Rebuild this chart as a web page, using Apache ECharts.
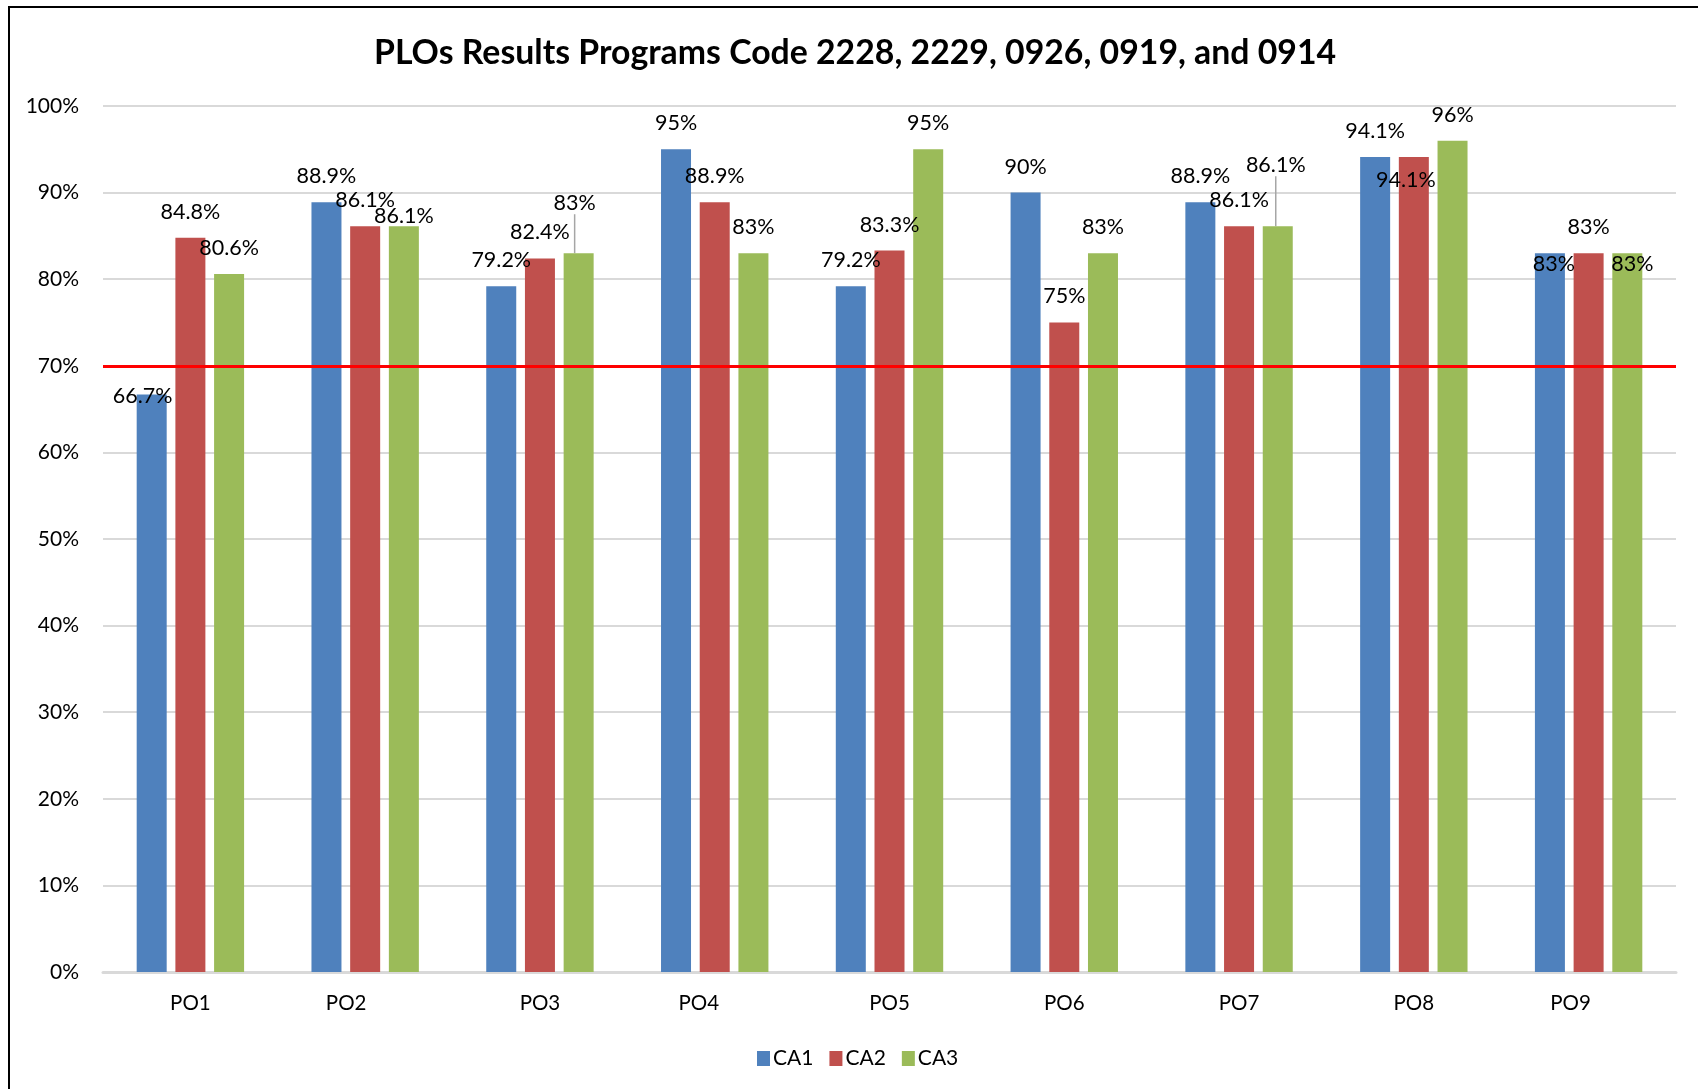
<!DOCTYPE html>
<html>
<head>
<meta charset="utf-8">
<script src="https://cdn.jsdelivr.net/npm/echarts@6/dist/echarts.min.js"></script>
<style>
  html, body { margin: 0; padding: 0; background: #fff; }
  #chart { width: 1698px; height: 1089px; }
</style>
</head>
<body>
<div id="chart"></div>
<script>
  const categories = ['PO1', 'PO2', 'PO3', 'PO4', 'PO5', 'PO6', 'PO7', 'PO8', 'PO9']
  const seriesNames = ['CA1', 'CA2', 'CA3']
  const ca1 = [66.7, 88.9, 79.2, 95, 79.2, 90, 88.9, 94.1, 83]
  const ca2 = [84.8, 86.1, 82.4, 88.9, 83.3, 75, 86.1, 94.1, 83]
  const ca3 = [80.6, 86.1, 83, 83, 95, 83, 86.1, 96, 83]
  const threshold = 70
  const yTicks = [0, 100, 10] // min, max, interval

  const colors = ['#4F81BD', '#C0504D', '#9BBB59']
  const font = 'Lato'

  // manual nudges of data labels, as placed in the original sheet [dx, dy]
  const labelNudge = [
    [[-9, 28], [0, 0], [0, 0], [0, 0], [0, 0], [0, 0], [0, 0], [0, 0], [4, 37]],
    [[0, 0], [0, 0], [0, 0], [0, 0], [0, 0], [0, 0], [0, 0], [-8, 49], [0, 0]],
    [[0, 0], [0, 16], [-4, -24], [0, 0], [0, 0], [0, 0], [-2, -35], [0, 0], [5, 37]],
  ]
  // labels that keep a leader line back to their bar
  const leaderLines = [[], [], [2, 6]]
  // category labels sit a bit off-centre in a few groups
  const catShift = [0, -19, 0, -16, 0, 0, 0, 0, -18]

  const chart = echarts.init(document.getElementById('chart'), null, { renderer: 'canvas' })

  function barSeries(name, values, si) {
    return {
      name,
      type: 'bar',
      barWidth: 30,
      barGap: '29%',
      itemStyle: { color: colors[si] },
      data: values.map((v, i) =>
        leaderLines[si].includes(i) ? { value: v, labelLine: { show: true } } : v
      ),
      label: {
        show: true,
        position: 'top',
        distance: 15,
        color: '#000',
        fontFamily: font,
        fontSize: 21.5,
        formatter: (p) => p.value + '%',
      },
      labelLine: { show: false, lineStyle: { color: '#A6A6A6', width: 1.5 } },
      labelLayout: (p) => {
        const n = labelNudge[p.seriesIndex][p.dataIndex]
        return { dx: n[0], dy: n[1] }
      },
    }
  }

  const series = [barSeries(seriesNames[0], ca1, 0), barSeries(seriesNames[1], ca2, 1), barSeries(seriesNames[2], ca3, 2)]
  series[0].markLine = {
    silent: true,
    symbol: 'none',
    label: { show: false },
    lineStyle: { color: '#FF0000', width: 3, type: 'solid' },
    data: [{ yAxis: threshold }],
  }

  const option = {
    animation: false,
    backgroundColor: '#fff',
    title: {
      text: 'PLOs Results Programs Code 2228, 2229, 0926, 0919, and 0914',
      left: 369,
      top: 31,
      textStyle: { fontFamily: font, fontWeight: 'bold', fontSize: 33.8, color: '#000' },
    },
    legend: {
      left: 752,
      top: 1043,
      itemWidth: 13,
      itemHeight: 15,
      itemGap: 16,
      icon: 'rect',
      textStyle: { fontFamily: font, fontSize: 21, color: '#000', padding: [0, 0, 0, -2] },
      data: seriesNames,
    },
    grid: { left: 103, right: 22, top: 106, bottom: 117, containLabel: false },
    xAxis: {
      type: 'category',
      data: categories.map((c, i) => ({
        value: c,
        textStyle: { padding: catShift[i] < 0 ? [0, -2 * catShift[i], 0, 0] : 0 },
      })),
      axisLine: { show: true, lineStyle: { color: '#D9D9D9', width: 3 } },
      axisTick: { show: false },
      axisLabel: { color: '#000', fontFamily: font, fontSize: 20.5, margin: 21 },
    },
    yAxis: {
      type: 'value',
      min: yTicks[0],
      max: yTicks[1],
      interval: yTicks[2],
      axisLine: { show: false },
      axisTick: { show: false },
      axisLabel: { color: '#000', fontFamily: font, fontSize: 21, margin: 24, formatter: '{value}%' },
      splitLine: { lineStyle: { color: '#D9D9D9', width: 2 } },
    },
    graphic: [
      {
        type: 'rect',
        silent: true,
        shape: { x: 9, y: 7, width: 1800, height: 1200 },
        style: { fill: 'none', stroke: '#000', lineWidth: 2 },
      },
    ],
    series,
  }

  chart.setOption(option)
</script>
</body>
</html>
